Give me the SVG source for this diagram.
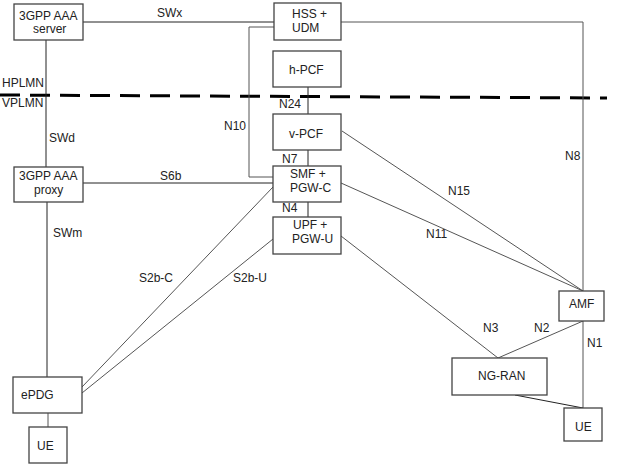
<svg xmlns="http://www.w3.org/2000/svg" width="625" height="475" viewBox="0 0 625 475">
<style>
rect.box{fill:#fff;stroke:#444;stroke-width:1.3}
text{font-family:"Liberation Sans",Arial,sans-serif;font-size:12px;fill:#222}
.c{stroke:#555;stroke-width:1;fill:none}
.k{stroke:#222;stroke-width:1;fill:none}
.dash{stroke:#000;stroke-width:3;stroke-dasharray:20 10;fill:none}
</style>
<rect width="625" height="475" fill="#fff"/>
<g id="connectors">
<line class="dash" x1="0" y1="95" x2="607" y2="98"/>
<line class="k" x1="83" y1="22" x2="274" y2="22"/>
<polyline class="c" points="274,27 249,27 249,177 273,177"/>
<polyline class="c" points="341,22 583,22 583,291"/>
<line class="k" x1="46" y1="40" x2="46" y2="167"/>
<line class="k" x1="308" y1="87" x2="308" y2="114"/>
<line class="k" x1="308" y1="150" x2="308" y2="166"/>
<line class="k" x1="308" y1="202" x2="308" y2="217"/>
<line class="k" x1="83" y1="183" x2="273" y2="183"/>
<line class="k" x1="47" y1="202" x2="47" y2="377"/>
<line class="c" x1="48" y1="413" x2="48" y2="427"/>
<line class="c" x1="273" y1="187" x2="82" y2="387"/>
<line class="c" x1="273" y1="239" x2="82" y2="393"/>
<line class="c" x1="342" y1="131" x2="583" y2="291"/>
<line class="c" x1="341" y1="183" x2="583" y2="291"/>
<line class="c" x1="341" y1="236" x2="498" y2="358"/>
<line class="c" x1="498" y1="358" x2="583" y2="321"/>
<line class="c" x1="583" y1="321" x2="583" y2="408"/>
<line class="k" x1="515" y1="395" x2="583" y2="408"/>
<text x="157" y="17">SWx</text>
<text x="2" y="87">HPLMN</text>
<text x="2" y="107">VPLMN</text>
<text x="49" y="142">SWd</text>
<text x="224" y="130">N10</text>
<text x="279" y="108">N24</text>
<text x="282" y="163">N7</text>
<text x="282" y="212">N4</text>
<text x="565" y="160">N8</text>
<text x="160" y="180">S6b</text>
<text x="53" y="237">SWm</text>
<text x="448" y="195">N15</text>
<text x="426" y="238">N11</text>
<text x="139" y="282">S2b-C</text>
<text x="233" y="282">S2b-U</text>
<text x="483" y="332">N3</text>
<text x="534" y="332">N2</text>
<text x="587" y="347">N1</text>
</g>
<g id="aaa-server"><rect class="box" x="14" y="4" width="69" height="36"/><text x="19" y="20">3GPP AAA</text><text x="33" y="33">server</text></g>
<g id="hss-udm"><rect class="box" x="274" y="3" width="67" height="37"/><text x="292" y="18">HSS +</text><text x="292" y="32">UDM</text></g>
<g id="h-pcf"><rect class="box" x="273" y="51" width="68" height="36"/><text x="289" y="74">h-PCF</text></g>
<g id="v-pcf"><rect class="box" x="273" y="114" width="68" height="36"/><text x="289" y="138">v-PCF</text></g>
<g id="smf"><rect class="box" x="273" y="166" width="68" height="36"/><text x="290" y="178">SMF +</text><text x="290" y="192">PGW-C</text></g>
<g id="upf"><rect class="box" x="273" y="217" width="68" height="37"/><text x="293" y="229">UPF +</text><text x="292" y="243">PGW-U</text></g>
<g id="aaa-proxy"><rect class="box" x="14" y="167" width="69" height="35"/><text x="19" y="180">3GPP AAA</text><text x="34" y="194">proxy</text></g>
<g id="epdg"><rect class="box" x="13" y="377" width="69" height="36"/><text x="21" y="399">ePDG</text></g>
<g id="ue-left"><rect class="box" x="29" y="427" width="38" height="36"/><text x="37" y="450">UE</text></g>
<g id="amf"><rect class="box" x="559" y="291" width="45" height="30"/><text x="569" y="308">AMF</text></g>
<g id="ng-ran"><rect class="box" x="452" y="358" width="95" height="37"/><text x="478" y="380">NG-RAN</text></g>
<g id="ue-right"><rect class="box" x="564" y="408" width="38" height="33"/><text x="575" y="431">UE</text></g>
</svg>
